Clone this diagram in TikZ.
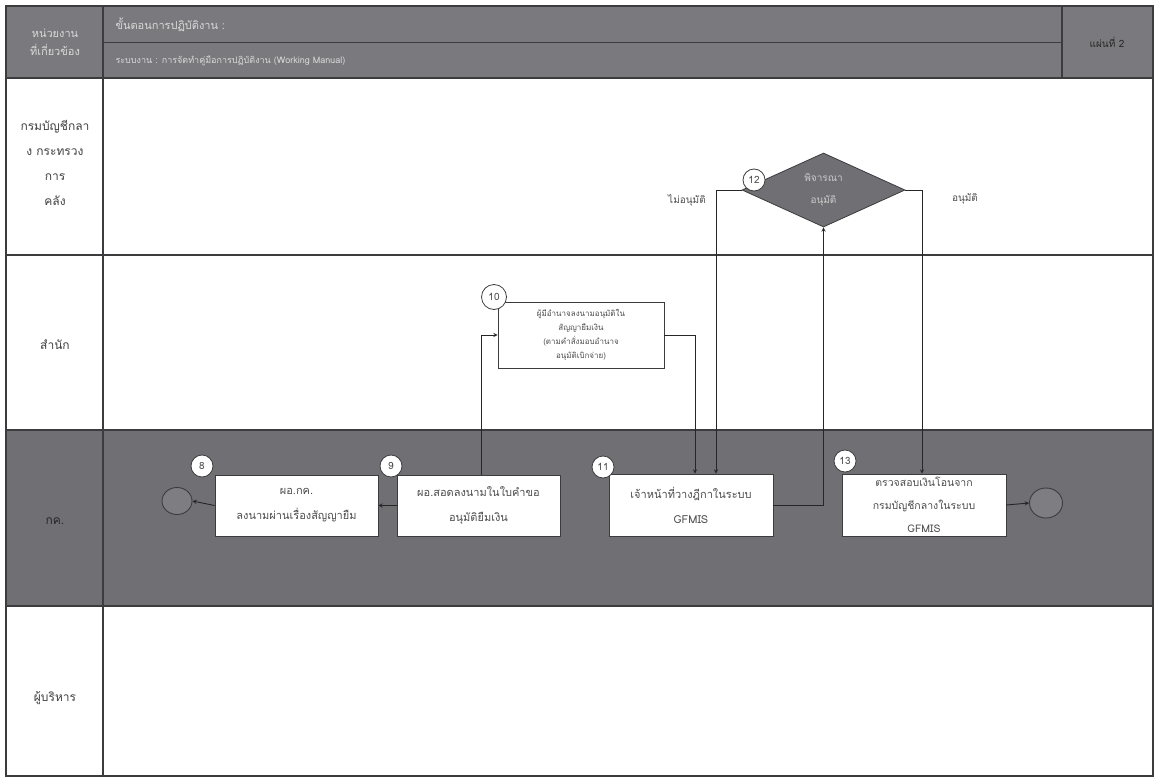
\documentclass[tikz,border=0pt]{standalone}
\usepackage{fontspec}
\setmainfont[Script=Thai]{Loma}
\usetikzlibrary{shapes.geometric}

\definecolor{headgray}{RGB}{122,122,126}
\definecolor{lanegray}{RGB}{112,112,116}
\definecolor{linegray}{RGB}{60,60,62}

\tikzset{
  passo/.style={draw=linegray, fill=white, line width=0.8pt, align=center,
    minimum width=164pt, minimum height=62pt, inner sep=2pt,
    font=\fontsize{11}{25}\selectfont, text=black!70},
  numero/.style={circle, draw=linegray, fill=white, line width=0.8pt,
    minimum size=22pt, inner sep=0pt, font=\fontsize{10}{10}\selectfont, text=black!70},
  extremo/.style={ellipse, draw=linegray, fill=lanegray!90, line width=0.9pt,
    minimum width=30pt, minimum height=27pt, inner sep=0pt},
  raia/.style={font=\fontsize{12}{25}\selectfont, align=center, text=black!75},
  rotulo/.style={font=\fontsize{10}{12}\selectfont, text=black!70},
  fluxo/.style={->, draw=black!85, line width=0.9pt}
}

\begin{document}
\begin{tikzpicture}[>=stealth, x=1pt, y=-1pt]

  \useasboundingbox (0,0) rectangle (1155,776);

  % Limites das raias
  \def\xL{6}
  \def\xC{103}
  \def\xR{1153}
  \def\yH{78}
  \def\yA{255}
  \def\yB{430}
  \def\yC{606}
  \def\yD{776}

  % Fundo das raias
  \fill[white] (0,0) rectangle (1155,776);
  \fill[headgray] (\xL,6) rectangle (\xR,\yH);
  \fill[lanegray] (\xL,\yB) rectangle (\xR,\yC);

  % Linhas da tabela
  \draw[linegray, line width=1.2pt] (\xL,6) rectangle (\xR,\yD);
  \draw[linegray, line width=1.2pt] (\xC,6) -- (\xC,\yD);
  \draw[linegray, line width=1.2pt] (1062,6) -- (1062,\yH);
  \draw[linegray, line width=0.9pt] (\xC,42) -- (1062,42);
  \foreach \yy in {\yH,\yA,\yB,\yC}
    \draw[linegray, line width=1.2pt] (\xL,\yy) -- (\xR,\yy);

  % Cabeçalho
  \node[raia, text=black!15, font=\fontsize{11}{18}\selectfont] (hunit) at (55,42) {หน่วยงาน\\ที่เกี่ยวข้อง};
  \node[anchor=west, text=black!15, font=\fontsize{11}{12}\selectfont] (htitle) at (112,25) {ขั้นตอนการปฏิบัติงาน :};
  \node[anchor=west, text=black!15, font=\fontsize{9}{11}\selectfont] (hsys) at (112,61) {ระบบงาน : การจัดทำคู่มือการปฏิบัติงาน (Working Manual)};
  \node[text=black!85, font=\fontsize{10}{12}\selectfont] (hpage) at (1107,42) {แผ่นที่ 2};

  % Nomes das raias
  \node[raia] (lane1) at (55,163) {กรมบัญชีกลา\\ง กระทรวง\\การ\\คลัง};
  \node[raia] (lane2) at (55,345) {สำนัก};
  \node[raia, text=black!85] (lane3) at (55,521) {กค.};
  \node[raia] (lane4) at (55,698) {ผู้บริหาร};

  % Passos
  \node[extremo] (start) at (177,501) {};
  \node[passo, minimum width=163pt, minimum height=61pt] (b8) at (296.5,505.5) {ผอ.กค.\\ลงนามผ่านเรื่องสัญญายืม};
  \node[passo, minimum width=163pt, minimum height=61pt] (b9) at (478.5,505.5) {ผอ.สอดลงนามในใบคำขอ\\อนุมัติยืมเงิน};
  \node[passo, minimum width=166pt, minimum height=66pt, font=\fontsize{8}{14}\selectfont] (b10) at (581,335)
    {ผู้มีอำนาจลงนามอนุมัติใน\\สัญญายืมเงิน\\(ตามคำสั่งมอบอำนาจ\\อนุมัติเบิกจ่าย)};
  \node[passo] (b11) at (691,505) {เจ้าหน้าที่วางฎีกาในระบบ\\GFMIS};
  \node[diamond, draw=linegray, fill=lanegray, line width=0.8pt, minimum width=163pt,
    minimum height=74pt, inner sep=0pt, align=center, text=black!20,
    font=\fontsize{10}{22}\selectfont] (d12) at (823.5,190) {พิจารณา\\อนุมัติ};
  \node[passo, font=\fontsize{10.5}{23}\selectfont] (b13) at (924,505) {ตรวจสอบเงินโอนจาก\\กรมบัญชีกลางในระบบ\\GFMIS};
  \node[extremo, minimum width=33pt, minimum height=30pt] (end) at (1046,503) {};

  % Números dos passos
  \node[numero] (n8) at (202,466) {8};
  \node[numero] (n9) at (391,466) {9};
  \node[numero, minimum size=25pt] (n10) at (494,297) {10};
  \node[numero] (n11) at (603,467) {11};
  \node[numero] (n12) at (754,180) {12};
  \node[numero] (n13) at (845,461) {13};

  % Conectores
  \draw[fluxo] (b8.west) -- (start.east);
  \draw[fluxo] (b9.west) -- (b8.east);
  \draw[fluxo] ([xshift=2.5pt]b9.north) |- (b10.west);
  \draw[fluxo] (b10.east) -| ([xshift=4pt]b11.north);
  \draw[fluxo] (b11.east) -| (d12.south);
  \draw[fluxo] (d12.west) -| ([xshift=25pt]b11.north);
  \draw[fluxo] (d12.east) -| ([xshift=-2pt]b13.north);
  \draw[fluxo] (b13.east) -- (end.west);

  % Rótulos da decisão
  \node[rotulo] (lno) at (687,200) {ไม่อนุมัติ};
  \node[rotulo] (lyes) at (965,199) {อนุมัติ};

\end{tikzpicture}
\end{document}
